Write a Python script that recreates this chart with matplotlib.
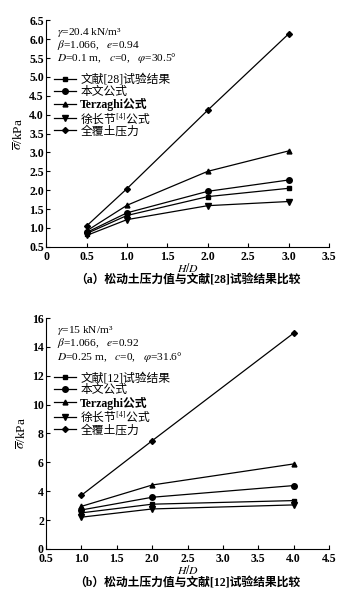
import matplotlib
matplotlib.use('Agg')
import matplotlib.pyplot as plt

plt.rcParams['font.family'] = ['Liberation Serif', 'Noto Sans CJK SC']
plt.rcParams['mathtext.fontset'] = 'stix'

# (a) 文献[28]
hd_a = [0.5, 1.0, 2.0, 3.0]
exp_a = [0.85, 1.33, 1.83, 2.05]
ours_a = [0.88, 1.40, 1.97, 2.27]
terz_a = [0.92, 1.60, 2.50, 3.04]
xu_a = [0.80, 1.22, 1.59, 1.70]
full_a = [1.05, 2.04, 4.12, 6.14]

# (b) 文献[12]
hd_b = [1.0, 2.0, 4.0]
exp_b = [2.50, 3.10, 3.35]
ours_b = [2.70, 3.58, 4.39]
terz_b = [2.95, 4.43, 5.89]
xu_b = [2.20, 2.77, 3.05]
full_b = [3.72, 7.50, 14.96]

xticks_a = [0, 0.5, 1.0, 1.5, 2.0, 2.5, 3.0, 3.5]
xlabels_a = ['0', '0.5', '1.0', '1.5', '2.0', '2.5', '3.0', '3.5']
yticks_a = [0.5, 1.0, 1.5, 2.0, 2.5, 3.0, 3.5, 4.0, 4.5, 5.0, 5.5, 6.0, 6.5]
xticks_b = [0.5, 1.0, 1.5, 2.0, 2.5, 3.0, 3.5, 4.0, 4.5]
yticks_b = [0, 2, 4, 6, 8, 10, 12, 14, 16]

fig = plt.figure(figsize=(3.49, 6.14), dpi=100)
ax1 = fig.add_axes([0.132, 0.598, 0.811, 0.369])
ax2 = fig.add_axes([0.132, 0.106, 0.811, 0.376])


def draw(ax, x, series, labels, info, caption, xt, xl, yt, ylim, xlim):
    markers = ['s', 'o', '^', 'v', 'D']
    sizes = [3.5, 4, 3.5, 4, 3]
    for y, lab, m, ms in zip(series, labels, markers, sizes):
        ax.plot(x, y, color='black', lw=0.9, marker=m, ms=ms, label=lab)
    ax.set_xlim(xlim)
    ax.set_ylim(ylim)
    ax.set_xticks(xt)
    ax.set_xticklabels(xl)
    ax.set_yticks(yt)
    if isinstance(yt[1], float):
        ax.set_yticklabels(['%.1f' % v for v in yt])
    ax.spines['top'].set_visible(False)
    ax.spines['right'].set_visible(False)
    ax.tick_params(direction='in', length=3, width=0.8, labelsize=8.5, pad=1.5)
    ax.tick_params(axis='x', pad=3)
    for t in ax.get_xticklabels() + ax.get_yticklabels():
        t.set_fontweight('bold')
    ax.set_xlabel('$H/D$', fontsize=8.5, labelpad=-1)
    ax.set_ylabel(r'$\overline{\sigma}$/kPa', fontsize=9.5, labelpad=2)
    for i, line in enumerate(info):
        ax.text(0.04, 0.947 - i * 0.057, line, transform=ax.transAxes,
                fontsize=8.2, va='center', ha='left')
    leg = ax.legend(loc='upper left', bbox_to_anchor=(0.0, 0.80), frameon=False,
                    fontsize=8.5, handlelength=1.8, handletextpad=0.4,
                    labelspacing=0.0, borderpad=0.2)
    leg.get_texts()[3].set_fontfamily('Noto Sans CJK SC')
    leg.get_texts()[2].set_fontweight('bold')
    ax.text(0.5, -0.15, caption, transform=ax.transAxes, fontsize=8.5,
            ha='center', va='center', fontweight='bold')


labels_a = ['文献[28]试验结果', '本文公式', 'Terzaghi公式', '徐长节$^{[4]}$公式', '全覆土压力']
info_a = [r'$\gamma$=20.4 kN/m³',
          r'$\beta$=1.066,   $e$=0.94',
          r'$D$=0.1 m,   $c$=0,   $\varphi$=30.5°']
draw(ax1, hd_a, [exp_a, ours_a, terz_a, xu_a, full_a], labels_a, info_a,
     '（a）松动土压力值与文献[28]试验结果比较',
     xticks_a, xlabels_a, yticks_a, (0.5, 6.5), (0, 3.5))

labels_b = ['文献[12]试验结果', '本文公式', 'Terzaghi公式', '徐长节$^{[4]}$公式', '全覆土压力']
info_b = [r'$\gamma$=15 kN/m³',
          r'$\beta$=1.066,   $e$=0.92',
          r'$D$=0.25 m,   $c$=0,   $\varphi$=31.6°']
draw(ax2, hd_b, [exp_b, ours_b, terz_b, xu_b, full_b], labels_b, info_b,
     '（b）松动土压力值与文献[12]试验结果比较',
     xticks_b, ['%.1f' % v for v in xticks_b], yticks_b, (0, 16), (0.5, 4.5))

fig.savefig('out.png', dpi=100)
